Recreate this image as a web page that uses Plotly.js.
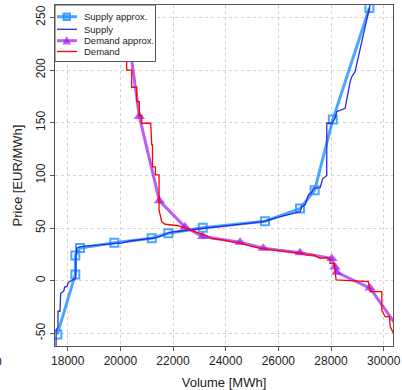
<!DOCTYPE html>
<html>
<head>
<meta charset="utf-8">
<script src="https://cdn.plot.ly/plotly-3.0.1.min.js"></script>
<style>html,body{margin:0;padding:0;background:#fff;}#chart{width:402px;height:390px;}</style>
</head>
<body>
<div id="chart"></div>
<script>
// ---- Data ----
const supplyVolume = [17556,17560,17631,17631,17707,17734,17848,17886,17973,18011,18061,18250,18300,18315,18342,18479,19748,20063,20374,21127,21381,21632,21886,22520,23531,24926,25431,25940,26571,26825,26889,27015,27080,27142,27270,27330,27585,27687,27839,27839,28030,28157,28218,28537,28727,28789,28914,29040,29104,29167,29294,29358,29420,29484,29550];
const supplyPrice  = [-70,-47,-44,-29,-29,-12,-10,-6,-5.5,-2.5,-1,1.3,2,23,30.8,32.3,35.5,36,37.7,40.3,40.9,43.4,46,47.9,50.7,54.5,56,59.8,64,65.5,70.3,71.9,76.6,81.4,84,87.7,88.3,97,99.7,149.5,149.5,154.2,160.5,163.7,189,193.7,198.5,212.7,220.7,228.6,239.7,249.2,255.5,262,280];

const supplyApproxVolume = [17605,18289,18289,18467,19770,21191,21822,23128,25495,26825,27380,28068,29458];
const supplyApproxPrice  = [-51,6,24,31,36,40.3,45,50.3,56.5,68.5,86,153,259];

const demandVolume = [20241,20241,20431,20431,20621,20621,20720,20720,20811,20811,21153,21191,21220,21220,21330,21330,21470,21470,21571,21700,22202,22520,22900,23216,23470,23911,24546,25306,26065,26825,27080,27330,27585,27839,27964,27964,28128,28193,29420,29484,29929,29929,30054,30218,30250,30374,30500];
const demandPrice  = [400,200,200,183.7,183.7,170,170,157,157,149.5,149.5,129,129,108,108,100.4,100.4,67,56,53.6,52.2,49.1,46,43.4,40.3,38.6,35.5,30.8,28.5,26,24.4,24.4,21.3,22,20.3,16.5,16.5,0.7,-0.9,-10.4,-10.4,-27.8,-34.2,-34.2,-43.7,-50,-60];

const demandApproxVolume = [19400,20720,21480,22456,23128,24546,25431,26825,28030,28150,28218,29484,30600];
const demandApproxPrice  = [400,156,76,51,42,36.5,30.8,26.5,21,13,8,-7,-46.5];

const xTicks = [18000,20000,22000,24000,26000,28000,30000];
const yTicks = [-50,0,50,100,150,200,250];
const legendLabels = ['Supply approx.','Supply','Demand approx.','Demand'];

// ---- Styling ----
const cSupApprox = 'rgba(30,144,255,0.8)';
const cSup = '#2a2ae6';
const cDemApprox = 'rgba(160,32,240,0.72)';
const cDem = '#ff0000';

const traces = [
  {x: supplyApproxVolume, y: supplyApproxPrice, mode:'lines+markers', name: legendLabels[0],
   line:{color:cSupApprox, width:3}, marker:{symbol:'square-open', size:8, color:cSupApprox, line:{width:2, color:cSupApprox}}},
  {x: supplyVolume, y: supplyPrice, mode:'lines', name: legendLabels[1], line:{color:cSup, width:1.3}},
  {x: demandApproxVolume, y: demandApproxPrice, mode:'lines+markers', name: legendLabels[2],
   line:{color:cDemApprox, width:3}, marker:{symbol:'triangle-up', size:10, color:cDemApprox}},
  {x: demandVolume, y: demandPrice, mode:'lines', name: legendLabels[3], line:{color:cDem, width:1.3}}
];

// pixel -> paper helpers (plot area 55..393 x 5..346)
const L=55, R=393, T=5, B=346;
const px = v => (v-L)/(R-L);
const py = v => (B-v)/(B-T);

const shapes = [];
const annotations = [];
// legend box
shapes.push({type:'rect', xref:'paper', yref:'paper', x0:px(55), x1:px(155.5), y0:py(61.5), y1:py(5),
  fillcolor:'#ffffff', line:{color:'#555', width:1}, layer:'above'});
const rowsY = [16.7, 29.3, 40.7, 51.5];
const rowCols = [cSupApprox, cSup, cDemApprox, cDem];
const rowW = [3, 1.3, 3, 1.3];
rowsY.forEach((y,i)=>{
  shapes.push({type:'line', xref:'paper', yref:'paper', x0:px(57), x1:px(77), y0:py(y), y1:py(y),
    line:{color:rowCols[i], width:rowW[i]}, layer:'above'});
  annotations.push({xref:'paper', yref:'paper', x:px(82), y:py(y), xanchor:'left', yanchor:'middle',
    text:legendLabels[i], showarrow:false, font:{size:9.5, color:'#222', family:'Liberation Sans, Arial, sans-serif'}});
});
// legend markers
shapes.push({type:'rect', xref:'paper', yref:'paper', x0:px(63.5), x1:px(70), y0:py(20), y1:py(13.5),
  fillcolor:'rgba(30,144,255,0.5)', line:{color:cSupApprox, width:2}, layer:'above'});
shapes.push({type:'path', xref:'paper', yref:'paper',
  path:`M ${px(62.5)} ${py(44.5)} L ${px(71)} ${py(44.5)} L ${px(66.7)} ${py(36)} Z`,
  fillcolor:cDemApprox, line:{color:cDemApprox, width:0}, layer:'above'});

// stray "0" at the far left (cut-off label in the reference)
annotations.push({xref:'paper', yref:'paper', x:px(4.5), y:py(361.5), xanchor:'right', yanchor:'middle',
  text:'0', showarrow:false, font:{size:12, color:'#222'}});

const axisCommon = {
  showline:true, mirror:true, linecolor:'#555', linewidth:1,
  ticks:'outside', ticklen:4, tickcolor:'#555', tickwidth:1,
  showgrid:true, gridcolor:'#d3d3d3', griddash:'3px,3px', gridwidth:1,
  zeroline:false, tickfont:{size:12, color:'#222'}
};

const layout = {
  width:402, height:390,
  margin:{l:55, r:9, t:5, b:44, pad:0},
  paper_bgcolor:'#fff', plot_bgcolor:'#fff',
  font:{family:'Liberation Sans, Arial, sans-serif', color:'#222'},
  showlegend:false,
  xaxis: Object.assign({}, axisCommon, {
    range:[17517, 30355], tickvals:xTicks, ticktext:xTicks.map(String),
    title:{text:'Volume [MWh]', font:{size:13, color:'#222'}, standoff:13}
  }),
  yaxis: Object.assign({}, axisCommon, {
    range:[-62, 261.8], tickvals:yTicks, ticktext:yTicks.map(String), tickangle:-90,
    title:{text:'Price [EUR/MWh]', font:{size:13, color:'#222'}, standoff:8}
  }),
  shapes: shapes,
  annotations: annotations
};

Plotly.newPlot('chart', traces, layout, {staticPlot:true, displayModeBar:false});
</script>
</body>
</html>
